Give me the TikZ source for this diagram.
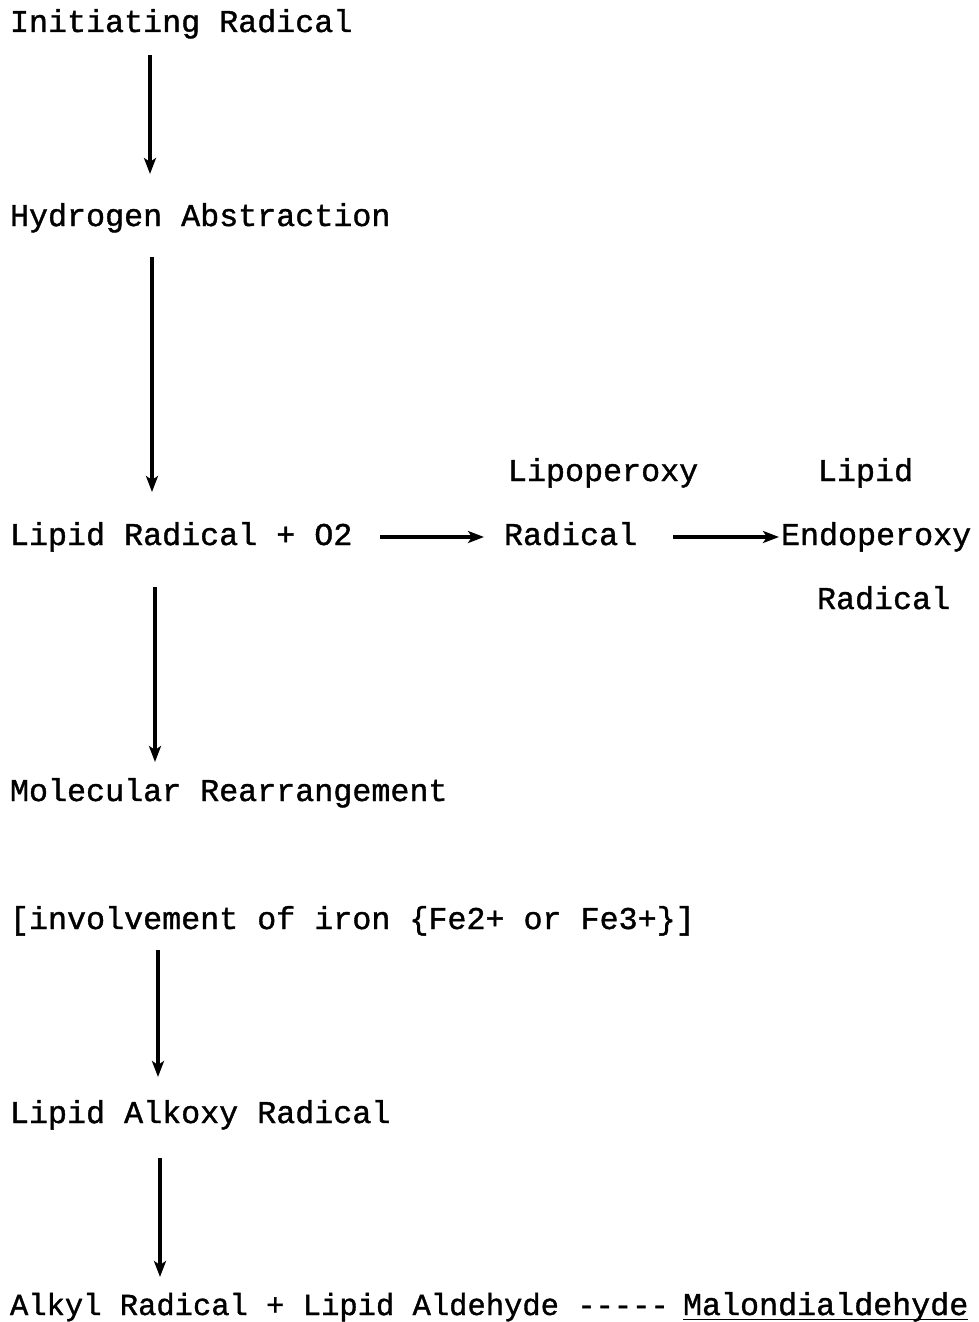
\documentclass[tikz,border=0pt]{standalone}
\usepackage{fontspec}
\setmainfont{Liberation Mono}[Ligatures=TeXOff,FakeBold=1.2,BoldFont=*]
\usetikzlibrary{arrows.meta}
\begin{document}
\begin{tikzpicture}[x=1pt,y=-1pt,
  lbl/.style={anchor=base west,inner sep=0pt,outer sep=0pt,font=\fontsize{31.7}{36}\selectfont\bfseries},
  lblsm/.style={anchor=base west,inner sep=0pt,outer sep=0pt,font=\fontsize{30.5}{36}\selectfont\bfseries},
  arr/.style={line width=3.4pt,-{Stealth[length=16pt,width=12pt,inset=4pt]}}]
\useasboundingbox (0,0) rectangle (979,1322);
\node[lbl] (init) at (10,32) {Initiating Radical};
\node[lbl] (habs) at (10,226) {Hydrogen Abstraction};
\node[lbl] (lrad) at (10,545) {Lipid Radical + O2};
\node[lbl] (lipo1) at (508,481) {Lipoperoxy};
\node[lbl] (lipo2) at (504,545) {Radical};
\node[lbl] (endo1) at (818,481) {Lipid};
\node[lbl] (endo2) at (781,545) {Endoperoxy};
\node[lbl] (endo3) at (817,609) {Radical};
\node[lbl] (mol) at (10,801) {Molecular Rearrangement};
\node[lbl] (iron) at (10,929) {[involvement of iron \{Fe2+ or Fe3+\}]};
\node[lbl] (alk) at (10,1123) {Lipid Alkoxy Radical};
\node[lblsm] (fin) at (10,1315) {Alkyl Radical + Lipid Aldehyde -----};
\node[lbl] (malo) at (683,1315) {Malondialdehyde};
\draw[line width=1.6pt] ([yshift=-4.5pt]malo.base west) -- ([yshift=-4.5pt]malo.base east);
\coordinate (a1s) at (150,55);  \coordinate (a1e) at (150,174);
\coordinate (a2s) at (152,257); \coordinate (a2e) at (152,492);
\coordinate (a3s) at (155,587); \coordinate (a3e) at (155,762);
\coordinate (a4s) at (158,950); \coordinate (a4e) at (158,1077);
\coordinate (a5s) at (160,1158); \coordinate (a5e) at (160,1277);
\draw[arr] (a1s) -- (a1e);
\draw[arr] (a2s) -- (a2e);
\draw[arr] (a3s) -- (a3e);
\draw[arr] (a4s) -- (a4e);
\draw[arr] (a5s) -- (a5e);
\draw[arr] ([yshift=8pt]lrad.base east -| 380,0) -- ([xshift=-20pt,yshift=8pt]lipo2.base west);
\draw[arr] ([xshift=36pt,yshift=8pt]lipo2.base east) -- ([xshift=-2pt,yshift=8pt]endo2.base west);
\end{tikzpicture}
\end{document}
